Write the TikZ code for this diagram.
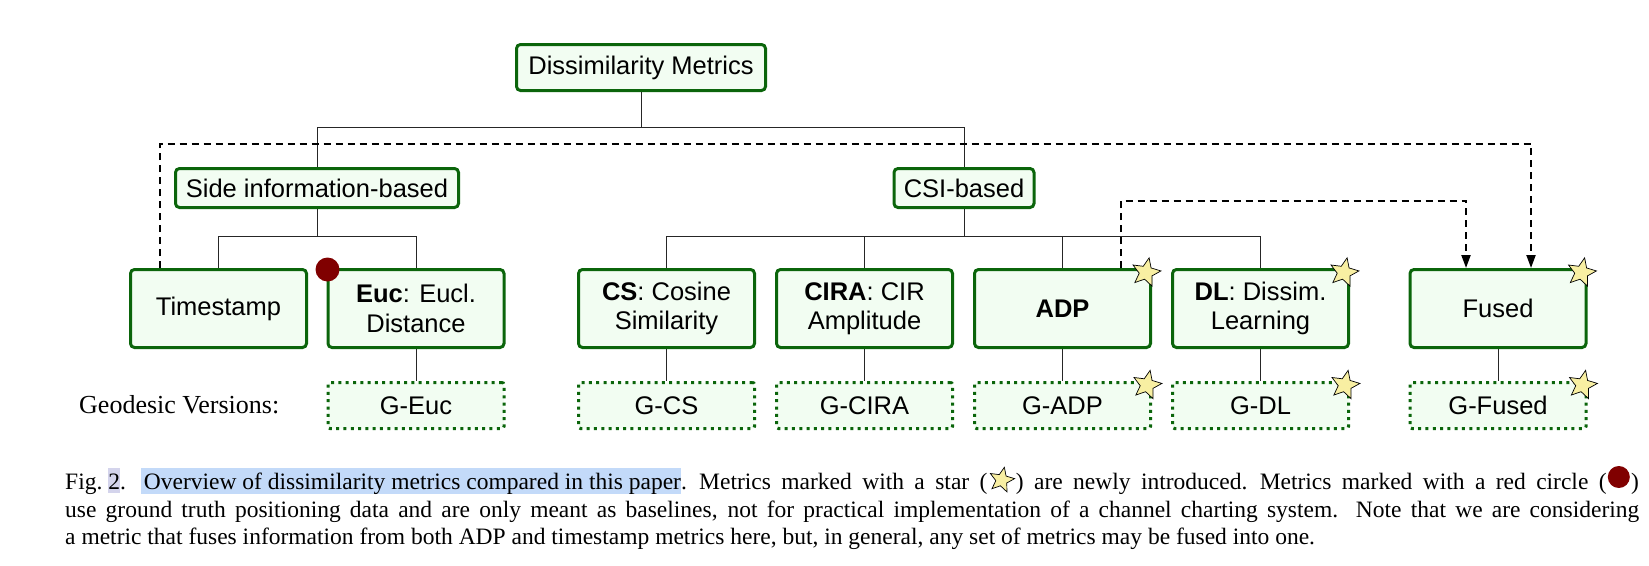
\documentclass[tikz,border=0pt]{standalone}
\usepackage{fontspec}
\setmainfont{Liberation Serif}
\newfontfamily\sansf{Liberation Sans}
\usetikzlibrary{shapes.geometric,arrows.meta,calc}
\definecolor{boxgreen}{HTML}{0B650B}
\definecolor{boxfill}{HTML}{F2FDF2}
\definecolor{staryellow}{HTML}{F8EFA2}
\definecolor{dotred}{HTML}{800000}
\definecolor{hlblue}{HTML}{C3DAF9}
\definecolor{hlgray}{HTML}{D4D4EC}
\newcommand\mybxfont{\sansf\fontsize{25.5}{29.5}\selectfont}
\newcommand\mycapfont{\fontsize{23.5}{27}\selectfont}
\newcommand\myhlstrut{\rule[-4pt]{0pt}{25pt}}
\begin{document}
\begin{tikzpicture}[x=1pt,y=-1pt,
  metric/.style={draw=boxgreen, fill=boxfill, line width=3pt, rounded corners=4pt,
    minimum width=176pt, minimum height=78pt, inner sep=2pt, align=center, font=\mybxfont},
  geo/.style={draw=boxgreen, fill=boxfill, line width=3pt, dash pattern=on 3pt off 4.3pt,
    rounded corners=2pt, minimum width=176pt, minimum height=46pt, inner sep=2pt, font=\mybxfont},
  treeline/.style={draw=black!85, line width=1pt},
  fuseline/.style={draw=black, line width=2pt, dash pattern=on 7pt off 5pt,
    -{Triangle[length=13pt,width=9pt]}},
  starsh/.style={star, star points=5, star point ratio=2.2, minimum size=30pt, inner sep=0pt,
    draw=black, line width=0.7pt, fill=staryellow, shape border rotate=-12},
  reddot/.style={circle, fill=dotred, minimum size=24pt, inner sep=0pt},
  capt/.style={anchor=base west, inner sep=0pt, font=\mycapfont}
]
\useasboundingbox (0,0) rectangle (1649,565);

% level 0 and 1
\node[metric, minimum width=249pt, minimum height=46pt] (title) at (641,67.5) {Dissimilarity Metrics};
\node[metric, minimum width=283pt, minimum height=39pt] (side) at (317,188) {Side information-based};
\node[metric, minimum width=140pt, minimum height=39pt] (csi) at (964,188) {CSI-based};

% level 2
\node[metric] (ts) at (218.5,308.5) {Timestamp};
\node[metric] (euc) at (416,308.5) {\textbf{Euc}: Eucl.\\Distance};
\node[metric] (cs) at (666.5,308.5) {\textbf{CS}: Cosine\\Similarity};
\node[metric] (cira) at (864.5,308.5) {\textbf{CIRA}: CIR\\Amplitude};
\node[metric] (adp) at (1062.5,308.5) {\textbf{ADP}};
\node[metric] (dl) at (1260.5,308.5) {\textbf{DL}: Dissim.\\Learning};
\node[metric] (fused) at (1498,308.5) {Fused};

% geodesic versions
\node[anchor=base west, inner sep=0pt, font=\fontsize{26}{30}\selectfont] (geolabel) at (79,413) {Geodesic Versions:};
\node[geo] (geuc) at (416,405.5) {G-Euc};
\node[geo] (gcs) at (666.5,405.5) {G-CS};
\node[geo] (gcira) at (864.5,405.5) {G-CIRA};
\node[geo] (gadp) at (1062.5,405.5) {G-ADP};
\node[geo] (gdl) at (1260.5,405.5) {G-DL};
\node[geo] (gfused) at (1498,405.5) {G-Fused};

% tree connectors
\draw[treeline] (title.south) -- ++(0,35) -| (side.north);
\draw[treeline] (title.south) -- ++(0,35) -| (csi.north);
\draw[treeline] (side.south) -- ++(0,27) -| (ts.north);
\draw[treeline] (side.south) -- ++(0,27) -| (euc.north);
\draw[treeline] (csi.south) -- ++(0,27) -| (cs.north);
\draw[treeline] (csi.south) -- ++(0,27) -| (cira.north);
\draw[treeline] (csi.south) -- ++(0,27) -| (adp.north);
\draw[treeline] (csi.south) -- ++(0,27) -| (dl.north);
\draw[treeline] (euc.south) -- (geuc.north);
\draw[treeline] (cs.south) -- (gcs.north);
\draw[treeline] (cira.south) -- (gcira.north);
\draw[treeline] (adp.south) -- (gadp.north);
\draw[treeline] (dl.south) -- (gdl.north);
\draw[treeline] (fused.south) -- (gfused.north);

% fusion connectors
\draw[fuseline] ([xshift=-58.5pt]ts.north) -- ++(0,-124.5) -| ([xshift=33pt]fused.north);
\draw[fuseline] ([xshift=58.5pt]adp.north) -- ++(0,-67.5) -| ([xshift=-32pt]fused.north);

% markers
\node[reddot] (redeuc) at ([xshift=1pt,yshift=-1.5pt]euc.north west) {};
\node[starsh] (sadp) at ([xshift=-6pt,yshift=-4.5pt]adp.north east) {};
\node[starsh] (sdl) at ([xshift=-6pt,yshift=-4.5pt]dl.north east) {};
\node[starsh] (sfused) at ([xshift=-6pt,yshift=-4.5pt]fused.north east) {};
\node[starsh] (sgadp) at ([xshift=-5pt,yshift=-4pt]gadp.north east) {};
\node[starsh] (sgdl) at ([xshift=-5pt,yshift=-4pt]gdl.north east) {};
\node[starsh] (sgfused) at ([xshift=-5pt,yshift=-4pt]gfused.north east) {};

% caption
\node[capt] (l1a) at (65,489) {Fig.~{\setlength\fboxsep{0pt}\colorbox{hlgray}{\myhlstrut 2}}.\hspace{15pt}{\setlength\fboxsep{0pt}\colorbox{hlblue}{\myhlstrut\kern3pt Overview of dissimilarity metrics compared in this paper}}{\spaceskip=10.4pt . Metrics marked with a star (}};
\node[starsh, minimum size=26pt] (cstar) at ($(l1a.base east)+(14,-9)$) {};
\node[capt] (l1b) at ($(l1a.base east)+(28,0)$) {{\spaceskip=10.4pt ) are newly introduced. Metrics marked with a red circle (}};
\node[reddot, minimum size=22pt] (ccirc) at ($(l1b.base east)+(12,-12)$) {};
\node[capt] (l1c) at ($(l1b.base east)+(24,0)$) {)};
\node[capt] (l2) at (65,517) {\makebox[1574pt][s]{use ground truth positioning data and are only meant as baselines, not for practical implementation of a channel charting system. Note that we are considering}};
\node[capt] (l3) at (65,544) {a metric that fuses information from both ADP and timestamp metrics here, but, in general, any set of metrics may be fused into one.};
\end{tikzpicture}
\end{document}
